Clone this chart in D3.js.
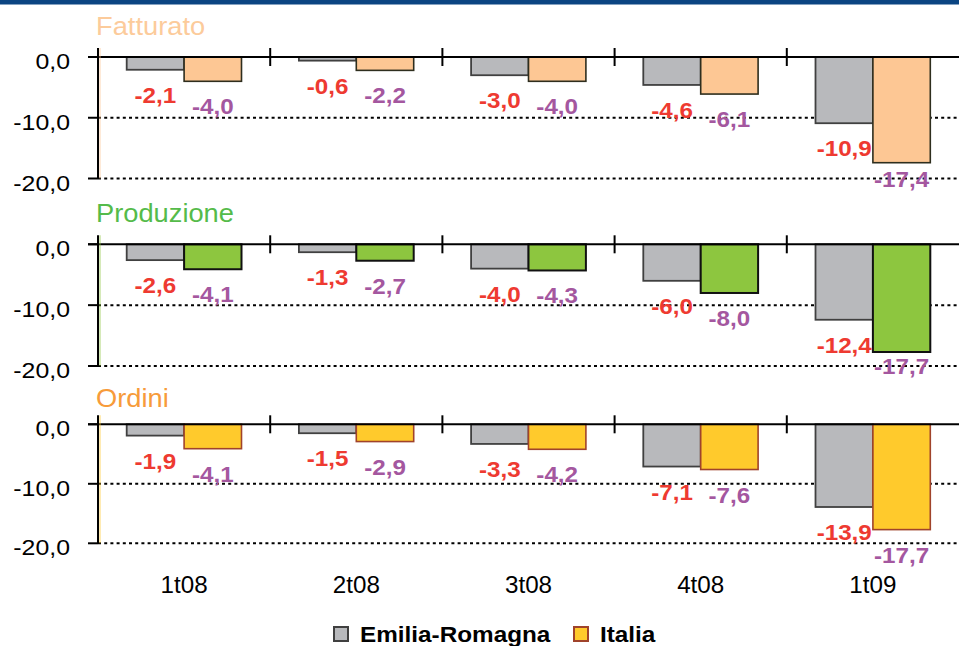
<!DOCTYPE html>
<html><head><meta charset="utf-8">
<script src="https://cdn.jsdelivr.net/npm/d3@7"></script>
<style>html,body{margin:0;padding:0;background:#fff;}svg{display:block;font-family:"Liberation Sans",Arial,sans-serif;}</style>
</head><body>
<svg id="chart" width="959" height="646"></svg>
<script>
const categories = ["1t08","2t08","3t08","4t08","1t09"];
const panelTitles = ["Fatturato","Produzione","Ordini"];
const seriesNames = ["Emilia-Romagna","Italia"];
const erFatturato  = [-2.1,-0.6,-3.0,-4.6,-10.9];
const itFatturato  = [-4.0,-2.2,-4.0,-6.1,-17.4];
const erProduzione = [-2.6,-1.3,-4.0,-6.0,-12.4];
const itProduzione = [-4.1,-2.7,-4.3,-8.0,-17.7];
const erOrdini     = [-1.9,-1.5,-3.3,-7.1,-13.9];
const itOrdini     = [-4.1,-2.9,-4.2,-7.6,-17.7];
const yTicks = [0,-10,-20];
const yDomain = [-20, 0];

// styles / layout
const erStyle = {fill:"#B8B9BC", stroke:"#404040"};
const panelStyles = [
  {title:"#FCCB9B", fill:"#FDC794", stroke:"#2E2E1E", sw:1.6},
  {title:"#55BB4A", fill:"#8DC63F", stroke:"#111111", sw:2},
  {title:"#F79B3A", fill:"#FFCA2C", stroke:"#A0432B", sw:1.6}
];
const panelLayout = [
  {zero:57, bottom:178.5, clamp:8, titleY:35},
  {zero:244.3, bottom:366, clamp:8, titleY:222},
  {zero:424.3, bottom:543.3, clamp:null, titleY:407}
];
const panelData = [
  [erFatturato, itFatturato],
  [erProduzione, itProduzione],
  [erOrdini, itOrdini]
];
const labelColors = ["#EE3A31", "#A4579F"];
const xLeft = 98, xRight = 959;

const svg = d3.select("#chart");
const fmt = v => d3.format(".1f")(v).replace("\u2212", "-").replace(".", ",");

function stext(g, x, y, str, opts) {
  return g.append("text")
    .attr("transform", `translate(${x},${y}) scale(${opts.sx || 1},1)`)
    .attr("text-anchor", opts.anchor || "start")
    .attr("font-size", opts.size)
    .attr("font-weight", opts.weight || "normal")
    .attr("fill", opts.fill || "#000")
    .text(str);
}

// top band
svg.append("rect").attr("x",0).attr("y",0).attr("width",959).attr("height",4.5).attr("fill","#0B4582");

const x = d3.scaleBand().domain(categories).range([xLeft, xRight]).padding(0);
const xs = d3.scaleBand().domain(seriesNames).range([0, x.bandwidth()]).paddingInner(0).paddingOuter(0.5);

panelTitles.forEach((title, pi) => {
  const L = panelLayout[pi], S = panelStyles[pi];
  const y = d3.scaleLinear().domain(yDomain).range([L.bottom, L.zero]);
  const g = svg.append("g");

  // title
  stext(g, 96, L.titleY, title, {size:25.5, sx:1.07, fill:S.title});

  // dotted gridlines
  g.selectAll("line.grid").data(yTicks.filter(d => d !== 0)).join("line")
    .attr("x1", xLeft).attr("x2", xRight)
    .attr("y1", d => y(d)).attr("y2", d => y(d))
    .attr("stroke", "#000").attr("stroke-width", 2).attr("stroke-dasharray", "3,3.2");

  // y tick labels
  yTicks.forEach(t => stext(g, 70, y(t) + 12, fmt(t), {size:22, sx:1.13, anchor:"end"}));
  // y ticks
  g.selectAll("line.ytick").data(yTicks).join("line")
    .attr("x1", 88).attr("x2", xLeft).attr("y1", d => y(d)).attr("y2", d => y(d))
    .attr("stroke", "#000").attr("stroke-width", 2);

  // bars
  const series = panelData[pi];
  series.forEach((vals, si) => {
    const st = si === 0 ? {fill:erStyle.fill, stroke:erStyle.stroke, sw:1.8} : S;
    g.selectAll(null).data(vals).join("rect")
      .attr("x", (d,i) => x(categories[i]) + xs(seriesNames[si]))
      .attr("y", d => y(0))
      .attr("width", xs.bandwidth())
      .attr("height", d => y(d) - y(0))
      .attr("fill", st.fill).attr("stroke", st.stroke).attr("stroke-width", st.sw);
  });

  // axes lines
  g.append("line").attr("x1", 88).attr("x2", xRight).attr("y1", y(0)).attr("y2", y(0))
    .attr("stroke", "#000").attr("stroke-width", 2);
  g.append("line").attr("x1", xLeft + 2).attr("x2", xLeft + 2).attr("y1", y(0) - 9).attr("y2", y(-20))
    .attr("stroke", S.fill).attr("stroke-width", 1.2).attr("opacity", 0.6);
  g.append("line").attr("x1", xLeft).attr("x2", xLeft).attr("y1", y(0) - 9).attr("y2", y(-20))
    .attr("stroke", "#000").attr("stroke-width", 2);
  // category ticks
  g.selectAll("line.xtick").data(categories.slice(1)).join("line")
    .attr("x1", d => x(d)).attr("x2", d => x(d))
    .attr("y1", y(0) - 9).attr("y2", y(0) + 9)
    .attr("stroke", "#000").attr("stroke-width", 2);

  // value labels
  series.forEach((vals, si) => {
    vals.forEach((v, i) => {
      let by = y(v) + 33;
      if (L.clamp !== null) by = Math.min(by, y(-20) + L.clamp);
      const cx = x(categories[i]) + xs(seriesNames[si]) + xs.bandwidth() / 2;
      stext(g, cx, by, fmt(v), {size:22, sx:1.1, weight:"bold", anchor:"middle", fill:labelColors[si]});
    });
  });

  // category labels on last panel
  if (pi === panelTitles.length - 1) {
    categories.forEach(c => stext(g, x(c) + x.bandwidth() / 2, 592.5, c, {size:23.5, sx:1.03, anchor:"middle"}));
  }
});

// legend
const lg = svg.append("g");
const legendItems = [
  {name: seriesNames[0], fill: erStyle.fill, stroke: "#404040", x: 334},
  {name: seriesNames[1], fill: panelStyles[2].fill, stroke: panelStyles[2].stroke, x: 574}
];
legendItems.forEach(it => {
  lg.append("rect").attr("x", it.x).attr("y", 627).attr("width", 14).attr("height", 14)
    .attr("fill", it.fill).attr("stroke", it.stroke).attr("stroke-width", 2);
  stext(lg, it.x + 26, 641.5, it.name, {size:21.5, sx:1.13, weight:"bold"});
});
</script>
</body></html>
